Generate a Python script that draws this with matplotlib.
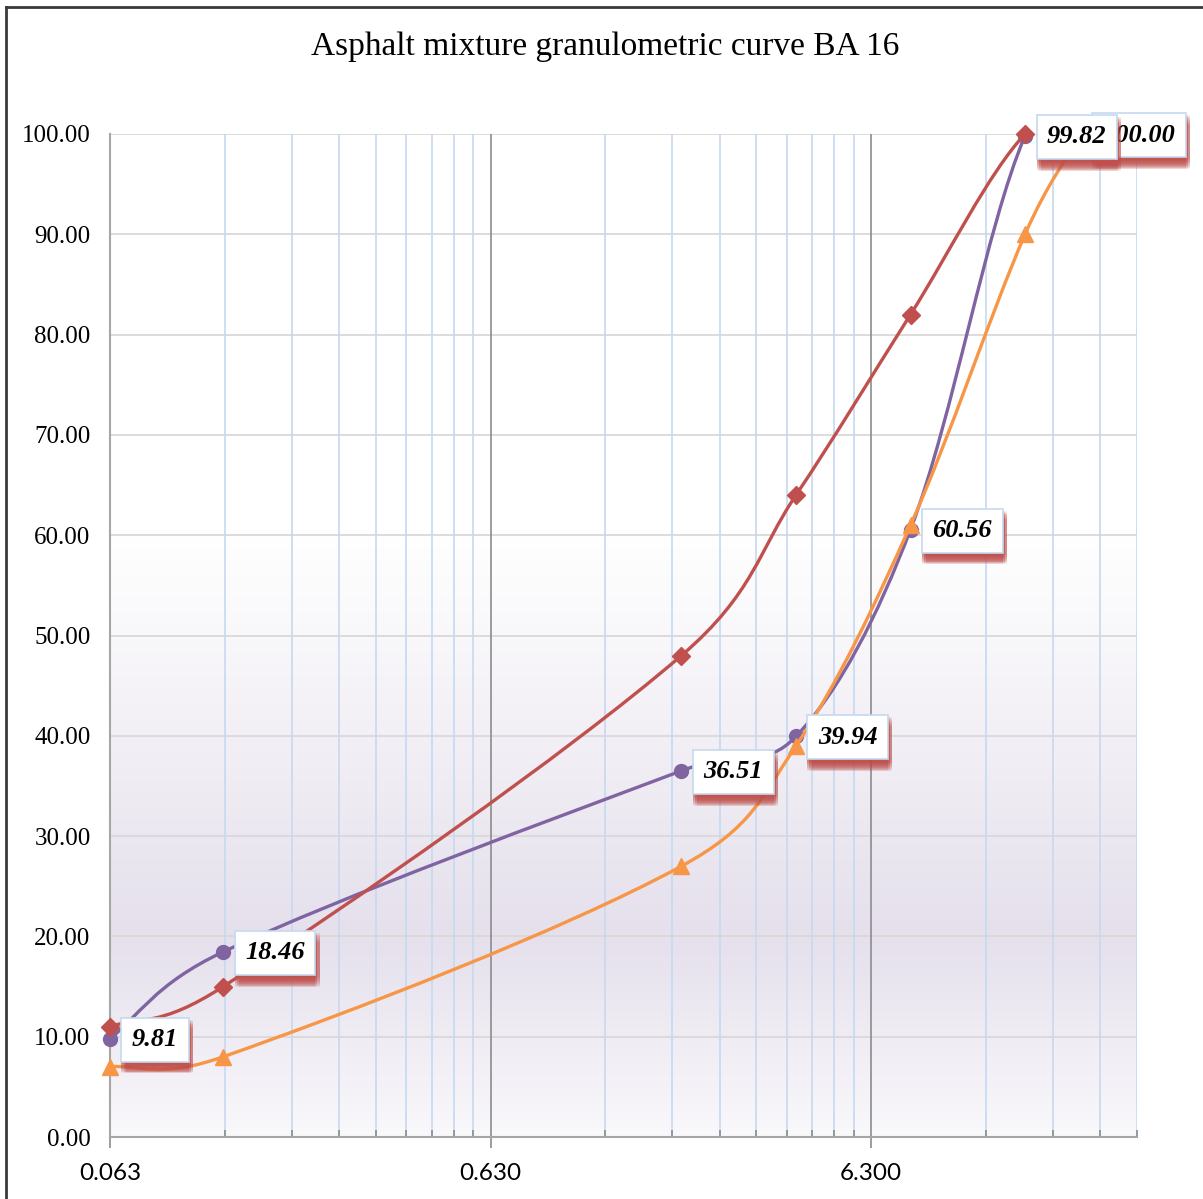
import numpy as np
import matplotlib
matplotlib.use("Agg")
import matplotlib.pyplot as plt
import matplotlib.patheffects as pe
from matplotlib.path import Path
from matplotlib.patches import PathPatch
from matplotlib.lines import Line2D
from matplotlib.ticker import FixedLocator, NullFormatter

# sieve sizes (mm) and passing (%)
sieves = [0.063, 0.125, 2.0, 4.0, 8.0, 16.0, 22.4]
mix_passing = [9.81, 18.46, 36.51, 39.94, 60.56, 99.82, 100.00]
upper_limit = [11, 15, 48, 64, 82, 100, 100]
lower_limit = [7, 8, 27, 39, 61, 90, 100]

x_min, x_max = 0.063, 31.5
major_x = [0.063, 0.630, 6.300]
minor_x = [d * k for d in (0.063, 0.63) for k in range(2, 10)] + [6.3 * k for k in range(2, 6)]

purple = "#8064A2"
red = "#C0504D"
orange = "#F79646"

fig = plt.figure(figsize=(12.03, 11.99), dpi=100)
ax = fig.add_axes([110 / 1203, 62 / 1199, 1027 / 1203, 1003 / 1199])
ax.set_xscale("log")
ax.set_xlim(x_min, x_max)
ax.set_ylim(0, 100)

# background gradient: white at the top, lavender around 20 %, lighter near 0
yy = np.linspace(0, 100, 400)
top = np.array([255, 255, 255]) / 255
mid = np.array([229, 224, 236]) / 255
bot = np.array([249, 248, 251]) / 255
cols = np.zeros((len(yy), 1, 3))
for i, v in enumerate(yy):
    if v >= 60:
        c = top
    elif v >= 20:
        t = (60 - v) / 40
        c = top + (mid - top) * t
    else:
        t = (20 - v) / 20
        c = mid + (bot - mid) * t
    cols[i, 0] = c
ax.imshow(cols, extent=[0, 1, 0, 1], transform=ax.transAxes, origin="lower",
          aspect="auto", zorder=0, interpolation="bilinear")

# grid
for v in range(10, 101, 10):
    ax.axhline(v, color="#D9D9D9", lw=1.3, zorder=1)
for v in minor_x:
    ax.axvline(v, color="#C6D9F0", lw=1.2, zorder=1)
for v in major_x[1:]:
    ax.axvline(v, color="#8C8C8C", lw=1.2, zorder=1)

for s in ("top", "right"):
    ax.spines[s].set_visible(False)
for s in ("left", "bottom"):
    ax.spines[s].set_color("#A6A6A6")
    ax.spines[s].set_linewidth(1.5)

ax.xaxis.set_major_locator(FixedLocator(major_x))
ax.xaxis.set_minor_locator(FixedLocator(minor_x))
ax.xaxis.set_minor_formatter(NullFormatter())
ax.set_xticklabels(["%.3f" % v for v in major_x], fontfamily="Lato", fontsize=17.5)
ax.tick_params(axis="x", which="major", direction="out", length=8, width=1.2,
               color="#8C8C8C", pad=11)
ax.tick_params(axis="x", which="minor", direction="in", length=5, width=1.2,
               color="#8C8C8C")
ax.set_yticks(range(0, 101, 10))
ax.set_yticklabels(["%.2f" % v for v in range(0, 101, 10)],
                   fontfamily="Liberation Serif", fontsize=18)
ax.tick_params(axis="y", length=0, pad=14)

# smoothed curves: Bezier segments built in axes pixel space
lx0, lx1 = np.log10(x_min), np.log10(x_max)
W, H = 1027.0, 1003.0


def smooth_path(xs, ys):
    u = (np.log10(xs) - lx0) / (lx1 - lx0) * W
    v = np.asarray(ys, float) / 100 * H
    P = np.column_stack([u, v])
    n = len(P)
    d = np.hypot(*np.diff(P, axis=0).T)
    verts = [P[0]]
    codes = [Path.MOVETO]
    for i in range(n - 1):
        p_prev = P[i - 1] if i > 0 else P[i]
        p_next2 = P[i + 2] if i + 2 < n else P[i + 1]
        d_prev = d[i - 1] if i > 0 else 0.0
        d_next = d[i + 1] if i + 2 < n else 0.0
        f1 = 0.5 * (1 / 6 + d[i] / (d_prev + d[i]) / 3)
        f2 = 0.5 * (1 / 6 + d[i] / (d[i] + d_next) / 3)
        c1 = P[i] + (P[i + 1] - p_prev) * f1
        c2 = P[i + 1] - (p_next2 - P[i]) * f2
        verts += [c1, c2, P[i + 1]]
        codes += [Path.CURVE4] * 3
    verts = np.array(verts)
    dx = 10 ** (verts[:, 0] / W * (lx1 - lx0) + lx0)
    dy = verts[:, 1] / H * 100
    return Path(np.column_stack([dx, dy]), codes)


series = [
    (mix_passing, purple, "o", 10),
    (upper_limit, red, "D", 9),
    (lower_limit, orange, "^", 11.5),
]
for k, (vals, col, mk, ms) in enumerate(series):
    patch = PathPatch(smooth_path(sieves, vals), fill=False, edgecolor=col,
                      lw=2.4, zorder=3 + k, capstyle="round")
    ax.add_patch(patch)
    ax.plot(sieves, vals, linestyle="none", marker=mk, color=col, ms=ms,
            zorder=3 + k, clip_on=False)

# data labels for the mixture, soft red shadow under each box
shadow = [pe.SimplePatchShadow(offset=(dx, dy), shadow_rgbFace=red, alpha=0.09)
          for dy in np.arange(-1.5, -9.0, -0.7) for dx in (0.0, 1.5, 3.0)]
for i in reversed(range(len(sieves))):
    t = ax.annotate("%.2f" % mix_passing[i], (sieves[i], mix_passing[i]),
                    xytext=(22, -1), textcoords="offset pixels",
                    ha="left", va="center", fontsize=19,
                    fontfamily="Liberation Serif", fontweight="bold",
                    fontstyle="italic", zorder=10 + (len(sieves) - i),
                    annotation_clip=False,
                    bbox=dict(boxstyle="square,pad=0.4", fc="white",
                              ec="#C6D9F0", lw=1.2))
    t.get_bbox_patch().set_path_effects(shadow + [pe.Normal()])

fig.text(605 / 1203, 1 - 47 / 1199, "Asphalt mixture granulometric curve BA 16",
         ha="center", va="center", fontsize=24, fontfamily="Liberation Serif")

# outer chart frame
fig.add_artist(Line2D([6 / 1203, 6 / 1203], [0, 1 - 7 / 1199],
                      transform=fig.transFigure, color="#3A3A3A", lw=2))
fig.add_artist(Line2D([6 / 1203, 1], [1 - 7 / 1199, 1 - 7 / 1199],
                      transform=fig.transFigure, color="#3A3A3A", lw=2))

fig.savefig("out.png", dpi=100)
